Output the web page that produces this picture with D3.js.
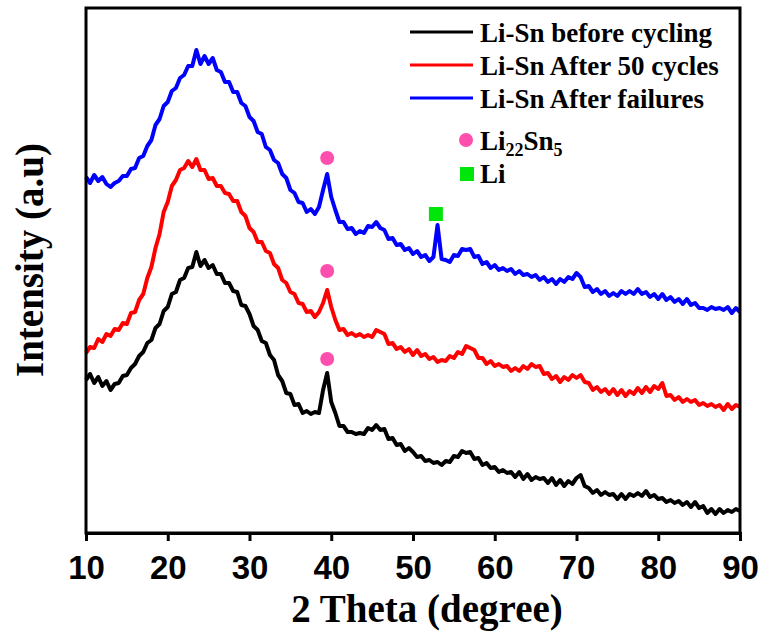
<!DOCTYPE html>
<html>
<head>
<meta charset="utf-8">
<script src="https://cdn.jsdelivr.net/npm/d3@7"></script>
<style>
    body { margin: 0; background: #fff; }
    svg { display: block; }
</style>
</head>
<body>
<div id="chart"></div>
<script>
// scan grid : 10 ~ 90 deg, step 0.5
const twoTheta = d3.range(161).map(i => 10 + i * 0.5);

// intensities (a.u.), already offset per pattern
const beforeCycling = [
    153,159,150,156,147,152,143,149,150,157,158,165,169,177,181,190,193,205,209,222,
    226,239,241,253,255,265,266,281,267,273,265,268,259,259,250,250,242,241,228,227,
    219,207,203,192,190,178,173,158,152,140,139,128,129,120,122,119,121,120,143,160,
    131,120,107,107,101,101,99,100,99,105,103,108,103,104,94,95,88,89,82,85,
    81,76,77,72,73,70,71,68,72,71,77,76,82,80,81,74,75,68,70,65,
    66,61,63,60,61,56,61,54,59,53,56,54,55,50,55,48,53,47,52,49,
    55,58,47,45,40,43,38,41,38,39,34,39,34,39,37,40,37,42,36,38,
    34,35,31,33,30,32,28,31,26,31,25,27,20,24,19,24,20,23,21,24,
    22
];
const after50 = [
    180,186,185,194,191,199,197,204,203,210,209,220,221,233,239,255,266,285,299,321,
    331,347,353,363,365,372,366,374,363,363,354,355,347,347,340,339,332,332,321,317,
    305,301,291,291,282,280,269,265,253,250,241,239,230,229,221,222,216,221,230,243,
    226,213,203,204,198,200,197,199,196,198,196,203,201,199,189,190,184,186,181,184,
    178,183,177,179,174,176,171,173,172,177,175,181,179,187,185,183,175,175,169,172,
    167,169,166,167,162,165,162,167,164,169,166,167,159,160,154,157,151,156,153,158,
    155,158,151,150,143,146,141,144,139,144,138,143,137,142,139,145,140,146,141,147,
    144,150,137,138,133,136,131,134,131,133,128,130,127,129,126,128,123,129,124,128,
    126
];
const afterFailures = [
    356,350,358,352,356,349,346,350,352,357,357,364,365,375,377,387,393,408,414,427,
    431,442,445,455,458,467,467,483,469,477,469,475,463,461,451,451,441,441,430,427,
    416,412,401,399,386,383,373,370,359,355,343,340,331,330,321,324,319,326,343,359,
    336,323,311,311,304,305,299,302,300,307,306,311,305,303,294,295,288,289,283,285,
    279,282,276,278,272,276,308,274,273,271,278,277,284,283,284,276,277,269,271,265,
    268,263,265,262,264,259,262,258,259,256,258,253,256,251,254,249,254,251,256,254,
    260,256,246,247,241,244,239,242,237,240,237,242,239,242,239,244,239,241,236,239,
    234,239,233,236,231,234,229,234,228,230,225,225,223,226,224,225,223,226,220,225,
    221
];

const seriesNames = ["Li-Sn before cycling", "Li-Sn After 50 cycles", "Li-Sn After failures"];
const seriesColors = ["#000000", "#ff0000", "#0000ff"];

// phase markers (2theta, intensity)
const li22sn5Peaks = [[39.5, 174], [39.5, 262], [39.5, 375]];
const liPeaks = [[52.8, 319]];

const xTicks = [10, 20, 30, 40, 50, 60, 70, 80, 90];

const width = 763, height = 644;
const margin = {top: 8, right: 23, bottom: 111, left: 86};

const svg = d3.select("#chart").append("svg")
    .attr("width", width)
    .attr("height", height);

const x = d3.scaleLinear()
    .domain([10, 90])
    .range([margin.left, width - margin.right]);
const y = d3.scaleLinear()
    .domain([0, 525])
    .range([height - margin.bottom, margin.top]);

const datasets = [beforeCycling, after50, afterFailures].map((vals, i) => ({
    name: seriesNames[i],
    color: seriesColors[i],
    data: vals.map((v, j) => ({t: twoTheta[j], v: v}))
}));

const line = d3.line()
    .x(d => x(d.t))
    .y(d => y(d.v));

// patterns
svg.append("g").attr("class", "chartBody")
    .selectAll("path")
    .data(datasets)
    .enter().append("path")
    .attr("d", d => line(d.data))
    .attr("fill", "none")
    .attr("stroke", d => d.color)
    .attr("stroke-width", 4)
    .attr("stroke-linejoin", "round");

// markers
svg.append("g")
    .selectAll("circle")
    .data(li22sn5Peaks)
    .enter().append("circle")
    .attr("cx", d => x(d[0]))
    .attr("cy", d => y(d[1]))
    .attr("r", 7)
    .attr("fill", "#ff4fae");

svg.append("g")
    .selectAll("rect")
    .data(liPeaks)
    .enter().append("rect")
    .attr("x", d => x(d[0]) - 7)
    .attr("y", d => y(d[1]) - 7)
    .attr("width", 14)
    .attr("height", 14)
    .attr("fill", "#00e60a");

// frame
svg.append("rect")
    .attr("x", x(10))
    .attr("y", y(525))
    .attr("width", x(90) - x(10))
    .attr("height", y(0) - y(525))
    .attr("fill", "none")
    .attr("stroke", "#000")
    .attr("stroke-width", 3);

// x axis
const xAxis = svg.append("g")
    .attr("class", "xAxis")
    .attr("transform", `translate(0,${y(0)})`)
    .call(d3.axisBottom(x).tickValues(xTicks).tickSize(8).tickPadding(15).tickFormat(d3.format("d")));
xAxis.select(".domain").attr("stroke-width", 3);
xAxis.selectAll(".tick line").attr("stroke-width", 3);
xAxis.selectAll(".tick text")
    .attr("font-family", "'Liberation Sans', Arial, sans-serif")
    .attr("font-weight", "bold")
    .attr("font-size", 33)
    .attr("fill", "#000");

// axis titles
svg.append("text")
    .attr("x", 427)
    .attr("y", 622)
    .attr("text-anchor", "middle")
    .attr("font-family", "'Liberation Serif', 'Times New Roman', serif")
    .attr("font-weight", "bold")
    .attr("font-size", 39)
    .text("2 Theta (degree)");

svg.append("text")
    .attr("transform", "translate(43,260) rotate(-90)")
    .attr("text-anchor", "middle")
    .attr("font-family", "'Liberation Serif', 'Times New Roman', serif")
    .attr("font-weight", "bold")
    .attr("font-size", 39)
    .text("Intensity (a.u)");

// legend
const legend = svg.append("g")
    .attr("font-family", "'Liberation Serif', 'Times New Roman', serif")
    .attr("font-weight", "bold")
    .attr("font-size", 27);

const rows = legend.selectAll(".row")
    .data(datasets)
    .enter().append("g")
    .attr("transform", (d, i) => `translate(0,${42 + i * 33})`);
rows.append("line")
    .attr("x1", 410).attr("x2", 473)
    .attr("y1", -10).attr("y2", -10)
    .attr("stroke", d => d.color)
    .attr("stroke-width", 3);
rows.append("text")
    .attr("x", 480)
    .text(d => d.name);

legend.append("circle")
    .attr("cx", 466).attr("cy", 140).attr("r", 7)
    .attr("fill", "#ff4fae");
const phase = legend.append("text").attr("x", 480).attr("y", 150);
phase.append("tspan").text("Li");
phase.append("tspan").attr("font-size", 18).attr("dy", 6).text("22");
phase.append("tspan").attr("dy", -6).text("Sn");
phase.append("tspan").attr("font-size", 18).attr("dy", 6).text("5");

legend.append("rect")
    .attr("x", 460).attr("y", 167).attr("width", 14).attr("height", 14)
    .attr("fill", "#00e60a");
legend.append("text").attr("x", 480).attr("y", 183).text("Li");
</script>
</body>
</html>
